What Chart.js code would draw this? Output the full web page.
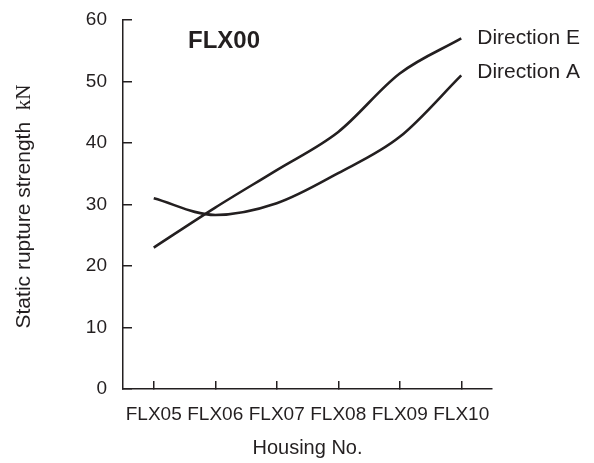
<!DOCTYPE html>
<html>
<head>
<meta charset="utf-8">
<script src="https://cdn.jsdelivr.net/npm/chart.js@4/dist/chart.umd.min.js"></script>
<style>
  html, body { margin: 0; padding: 0; background: #fff; }
  #wrap { width: 594px; height: 463px; }
</style>
</head>
<body>
<div id="wrap"><canvas id="c" width="594" height="463"></canvas></div>
<script>
const categories = ["FLX05", "FLX06", "FLX07", "FLX08", "FLX09", "FLX10"];
const directionE = [23.0, 29.5, 35.6, 41.8, 51.3, 57.0];
const directionA = [31.0, 28.3, 30.2, 35.1, 41.0, 51.0];
const seriesNames = ["Direction E", "Direction A"];
const yTicks = [0, 10, 20, 30, 40, 50, 60];
const panelTitle = "FLX00";
const yTitleMain = "Static rupture strength  ";
const yTitleUnit = "kN";
const xTitle = "Housing No.";

const INK = "#231f20";
const SANS = "'Liberation Sans', Arial, Helvetica, sans-serif";
const SERIF = "'Liberation Serif', 'Times New Roman', serif";

const annotate = {
  id: "annotate",
  afterDraw(chart) {
    const ctx = chart.ctx;
    const xs = chart.scales.x, ys = chart.scales.y;
    const area = chart.chartArea;
    ctx.save();
    ctx.fillStyle = INK;
    ctx.font = "21px " + SANS;
    ctx.textAlign = "left";
    ctx.textBaseline = "middle";
    const last = categories.length - 1;
    const xEnd = xs.getPixelForValue(last) + 16;
    ctx.fillText(seriesNames[0], xEnd, ys.getPixelForValue(directionE[last]));
    ctx.fillText(seriesNames[1], xEnd, ys.getPixelForValue(directionA[last]) - 3);
    ctx.font = "bold 24px " + SANS;
    ctx.fillText(panelTitle, area.left + 65, area.top + 21);
    ctx.translate(24, (area.top + area.bottom) / 2 + 2);
    ctx.rotate(-Math.PI / 2);
    ctx.font = "21px " + SANS;
    const w1 = ctx.measureText(yTitleMain).width;
    ctx.font = "21px " + SERIF;
    const w2 = ctx.measureText(yTitleUnit).width;
    const start = -(w1 + w2) / 2;
    ctx.font = "21px " + SANS;
    ctx.fillText(yTitleMain, start, 0);
    ctx.font = "21px " + SERIF;
    ctx.fillText(yTitleUnit, start + w1, 0);
    ctx.restore();
  }
};

new Chart(document.getElementById("c"), {
  type: "line",
  data: {
    labels: categories,
    datasets: [
      { label: seriesNames[0], data: directionE, borderColor: INK, borderWidth: 2.6,
        pointRadius: 0, fill: false, cubicInterpolationMode: "monotone" },
      { label: seriesNames[1], data: directionA, borderColor: INK, borderWidth: 2.6,
        pointRadius: 0, fill: false, cubicInterpolationMode: "monotone" }
    ]
  },
  options: {
    responsive: false,
    animation: false,
    devicePixelRatio: 1,
    layout: { padding: { top: 20, right: 102, left: 0, bottom: 0 } },
    plugins: { legend: { display: false }, tooltip: { enabled: false } },
    scales: {
      x: {
        type: "category",
        offset: true,
        grid: { display: true, drawOnChartArea: false, drawTicks: true, tickLength: -8,
                color: INK, lineWidth: 1.5, offset: false },
        border: { display: true, color: INK, width: 1.5 },
        ticks: { color: INK, font: { family: SANS, size: 19 }, padding: 22, maxRotation: 0, autoSkip: false },
        title: { display: true, text: xTitle, color: INK, font: { family: SANS, size: 20 },
                 padding: { top: 0, bottom: 3 } },
        afterFit(scale) { scale.height = 74; scale.paddingLeft = 0; scale.paddingRight = 0; scale.paddingTop = 0; scale.paddingBottom = 0; }
      },
      y: {
        min: 0, max: 60,
        afterBuildTicks(scale) { scale.ticks = yTicks.map(v => ({ value: v })); },
        grid: { display: true, drawOnChartArea: false, drawTicks: true, tickLength: -9,
                color: INK, lineWidth: 1.5 },
        border: { display: true, color: INK, width: 1.5 },
        ticks: { color: INK, font: { family: SANS, size: 19 }, padding: 25 },
        afterFit(scale) { scale.width = 123; scale.paddingTop = 0; scale.paddingBottom = 0; scale.paddingLeft = 0; scale.paddingRight = 0; }
      }
    }
  },
  plugins: [annotate]
});
</script>
</body>
</html>
